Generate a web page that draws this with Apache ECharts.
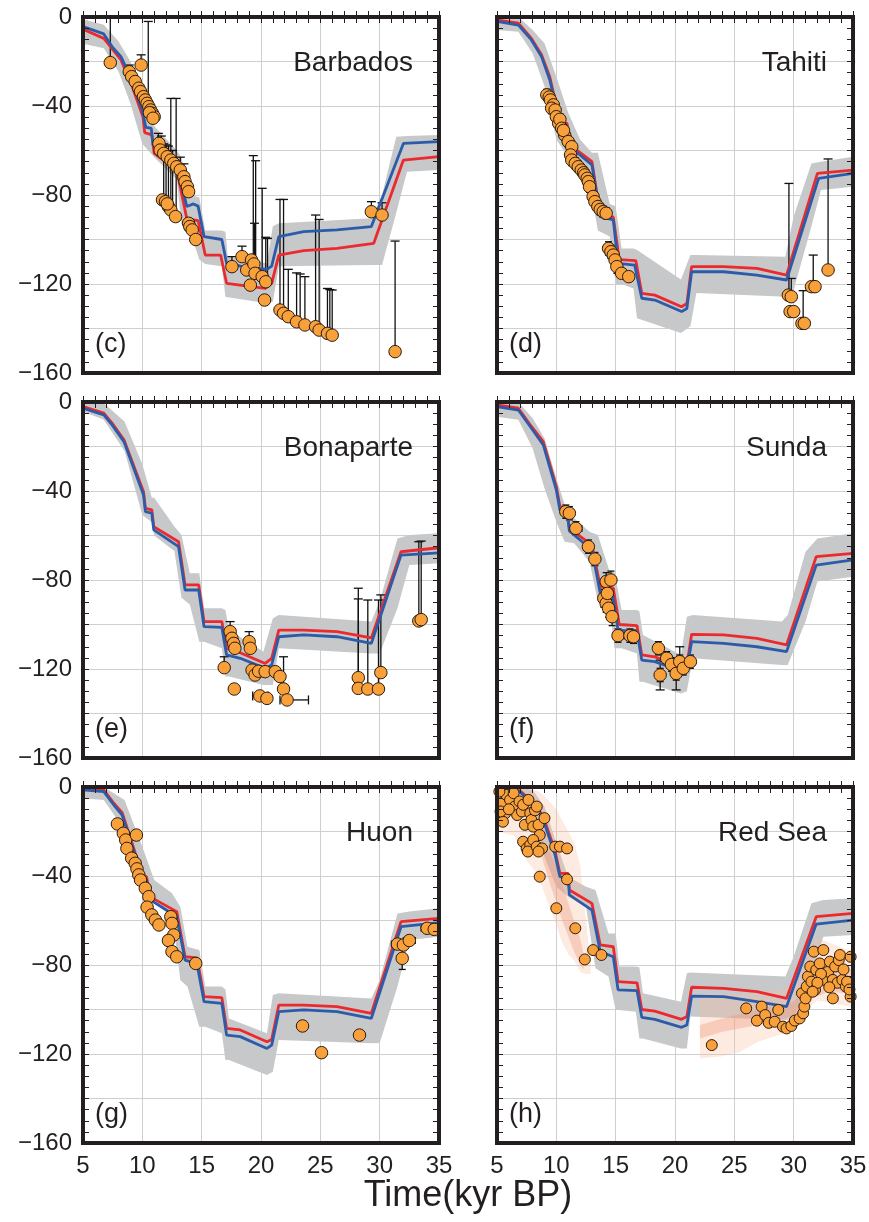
<!DOCTYPE html>
<html>
<head>
<meta charset="UTF-8" />
<title>Sea level, six sites</title>
<style type="text/css">
body,html{margin:0;padding:0;border:0;width:100%;height:100%;overflow:hidden;background:#fff;}
#chart{width:869px;height:1222px;}
</style>
<script src="https://cdn.jsdelivr.net/npm/echarts@6/dist/echarts.min.js"></script>
</head>
<body>
<div id="chart"></div>
<script type="text/javascript">
// axes
var X_MIN = 5, X_MAX = 35, Y_MIN = -160, Y_MAX = 0;
var xTicks = [5, 10, 15, 20, 25, 30, 35];
var yTicks = [0, -40, -80, -120, -160];
var siteNames = ['Barbados', 'Tahiti', 'Bonaparte', 'Sunda', 'Huon', 'Red Sea'];
var panelTags = ['(c)', '(d)', '(e)', '(f)', '(g)', '(h)'];

// ---- Barbados ----  [kyr BP, m]
var barbadosBlue = [[5,-4.3],[6.75,-7.6],[7.45,-13.3],[8.2,-17.8],[9,-27],[10,-42],[10.3,-49.6],[10.75,-50],[10.9,-57.5],[12.9,-65.8],[13.75,-85.2],[14.3,-84],[14.7,-85],[15.2,-98.7],[16.7,-100],[17.1,-110.7],[18.5,-112.2],[20.5,-113.4],[20.9,-112],[21.5,-98.7],[23.6,-96.5],[26.4,-95.7],[29.3,-94.2],[32,-56.8],[35,-56]];
var barbadosRed = [[5,-5.5],[6.75,-9.6],[8.2,-19.3],[9.1,-30.6],[10.05,-44.8],[10.2,-52],[10.8,-53],[11,-61.3],[12.9,-68.8],[13.8,-92],[14.3,-91.2],[14.7,-91.5],[15.3,-107],[16.6,-107],[17.1,-119.7],[20.35,-122],[20.9,-119.7],[21.5,-107],[23.6,-105],[26.4,-104],[29.5,-101.7],[32,-64.3],[35,-62.8]];
var barbadosBand = [[5,-1,-12],[6.75,-3.5,-14],[8,-11,-24.6],[9,-20,-39],[10,-34,-57],[10.5,-45,-60],[11,-49,-63],[12.9,-60,-73],[13.3,-63,-93],[14,-80,-96],[14.8,-81,-109],[15.3,-96,-111],[16.7,-96,-112],[17,-96.5,-125.7],[17.2,-107.7,-126],[20.5,-110.7,-128.7],[21,-94,-128],[21.5,-92.7,-112],[29.3,-90.5,-111.5],[30.2,-80,-111.5],[31.4,-53.8,-88],[32.3,-53.5,-69.5],[35,-53,-68.8]];
var barbadosPts = [[7.3,-20.5],[9.9,-21.6],[8.9,-24.6],[9.1,-26.8],[9.4,-29],[9.7,-32],[9.85,-33.5],[10.1,-35.8],[10.25,-37.3],[10.4,-38.8],[10.55,-40.3],[10.7,-41.8],[10.85,-43.3],[11,-44.8],[10.6,-43],[10.9,-45.5],[11.4,-56.8],[11.5,-59.8],[11.8,-61.3],[12.1,-62.8],[12.4,-64.3],[12.65,-65.8],[12.9,-67.3],[13.2,-68.8],[13.5,-71.8],[13.6,-74],[13.8,-76.3],[13.9,-78.5],[11.7,-82.2],[11.95,-83],[12.2,-85.2],[12.4,-86.7],[12.8,-89.7],[12.1,-84],[13.9,-92.7],[14,-94.2],[14.2,-95.7],[14.5,-100],[17.55,-112.2],[18.4,-107.7],[18.8,-113.7],[19.2,-109.2],[19.4,-111],[19.5,-115.2],[19.1,-120.5],[20.1,-116.7],[20.4,-119],[20.3,-127.2],[21.6,-131.7],[21.9,-133.2],[22.3,-134.7],[23,-137],[23.7,-138.4],[24.6,-139.2],[24.9,-140.7],[25.6,-142.2],[26,-143],[29.3,-87.5],[30.2,-89],[31.3,-150.4]];
var barbadosBars = [[7.3,-20.5,0],[9.9,-21.6,-17],[10.5,-38.8,-2],[8.9,-24.6,-21.6],[11.35,-56.8,-52.3],[11.6,-59.8,-53.5],[11.8,-82.2,-57],[12,-83,-57.5],[12.2,-85.2,-58],[12.4,-86.7,-36.6],[12.55,-86,-60],[12.85,-89.7,-36.6],[13.2,-68.8,-63],[13.5,-71.8,-66],[17.55,-112.2,-107.7],[18.4,-107.7,-103],[19.35,-109,-62.3],[19.55,-110,-64.6],[19.45,-111,-92.7],[20.1,-116.7,-77],[20.4,-119,-99],[20.55,-120,-99.5],[21.6,-131.7,-82],[21.9,-133.2,-82],[22.3,-134.7,-113.4],[23,-137,-115],[23.3,-137.5,-115.5],[23.7,-138.4,-116.7],[24.6,-139.2,-89],[24.9,-140.7,-91],[25.6,-142.2,-122],[25.8,-142.5,-122.5],[26,-143,-122.7],[29.3,-87.5,-83],[30.2,-89,-83.5],[31.3,-150.4,-100.7]];

// ---- Tahiti ----
var tahitiBlue = [[5,-2],[6.8,-3.6],[7.9,-10.3],[8.75,-17.8],[9.45,-28.3],[10.3,-47.8],[10.9,-49.3],[11.15,-58.3],[13,-66.5],[13.7,-89.7],[14.8,-91.2],[15.2,-110.7],[16.6,-111.5],[17.2,-126.4],[18.3,-127.2],[20.55,-132.4],[21,-131],[21.4,-114.5],[24.1,-114.5],[26.9,-116],[29.4,-118.2],[32.1,-72.5],[35,-70.3]];
var tahitiRed = [[5,-1.3],[6.8,-2.8],[7.9,-9.6],[8.75,-17],[9.45,-27],[10.3,-47],[10.9,-47.8],[11.15,-57.5],[13,-65],[13.7,-89],[14.8,-90],[15.3,-109],[16.7,-109.5],[17.2,-124.2],[18.3,-125],[20.55,-130.2],[21,-128.8],[21.4,-112.2],[24.1,-112.2],[26.9,-113],[29.4,-116],[32,-70.3],[35,-68.8]];
var tahitiBand = [[5,0,-5.8],[6.8,0,-6.6],[8,-5.8,-16.3],[9,-11.8,-31],[10,-26.8,-55],[11,-43,-63],[12,-55,-66],[13,-61,-80.7],[13.5,-61,-96],[14.5,-84,-98.7],[15,-85,-120],[15.5,-104,-120],[16.5,-104,-122],[16.8,-104.7,-135.4],[20.5,-118,-142],[21.3,-107,-139],[21.8,-107,-124],[29.3,-107.7,-125.7],[30,-89.7,-122.7],[31.5,-65.8,-94],[32.3,-65,-77.8],[35,-62.8,-76.3]];
var tahitiPts = [[9.2,-35,0.25,2.5],[9.4,-36,0.25,2.5],[9.5,-37.3,0.25,2.5],[9.75,-39.5,0.25,2.5],[9.6,-41,0.25,2.5],[9.9,-41.8,0.25,2.5],[10,-44.8,0.25,2.5],[10.2,-47.8,0.25,2.5],[10.3,-46,0.25,2.5],[10.45,-50,0.25,2.5],[10.7,-53,0.25,2.5],[10.6,-51,0.25,2.5],[11,-56,0.25,2.5],[11.3,-58.3,0.25,2.5],[11.2,-62,0.25,2.5],[11.3,-64.3,0.25,2.5],[11.6,-65.8,0.25,2.5],[11.85,-67.3,0.25,2.5],[12.1,-68.8,0.25,2.5],[12.3,-70,0.25,2.5],[12.4,-71,0.25,2.5],[12.6,-72.5,0.25,2.5],[12.7,-74,0.25,2.5],[12.8,-76.3,0.25,2.5],[13.1,-80.7,0.25,2.5],[13.25,-83,0.25,2.5],[13.5,-85.2,0.25,2.5],[13.7,-86.5,0.25,2.5],[13.95,-87.5,0.25,2.5],[14.2,-88.2,0.25,2.5],[14.4,-104,0.25,3],[14.6,-105.5,0.25,3],[14.8,-107,0.25,3],[14.95,-109.2,0.25,3],[15.1,-112.2,0.25,3],[15.5,-115.2,0,0],[16.1,-116.7,0,0],[29.55,-125],[29.8,-125.7],[29.7,-132.4],[30,-132.4],[30.7,-137.7],[30.9,-137.7],[31.5,-121.2],[31.8,-121.2],[32.9,-113.7]];
var tahitiBars = [[29.6,-125,-74.8],[29.8,-125.7,-117.5],[30.8,-137.7,-123],[31.65,-121.2,-107],[32.9,-113.7,-63.8]];

// ---- Bonaparte ----
var bonaparteBlue = [[5,-2.8],[6.75,-5.8],[7.45,-10.3],[8.45,-17.8],[10.1,-41.8],[10.26,-49.3],[10.8,-50],[10.96,-57.5],[13.05,-65],[13.6,-84.5],[14.75,-84.5],[15.2,-101],[16.7,-101.3],[17.1,-113.7],[18.25,-115.2],[20.35,-119.7],[20.9,-118.2],[21.5,-105.5],[23.6,-104.7],[26.4,-105.5],[29.3,-108.5],[31.8,-68.8],[35,-67.8]];
var bonaparteRed = [[5,-2.1],[6.75,-5],[7.45,-9.5],[8.45,-17],[10.1,-40.3],[10.26,-47.8],[10.8,-48.5],[10.96,-56],[13.05,-62.8],[13.6,-82.2],[14.75,-82.2],[15.2,-98.7],[16.7,-98.7],[17.1,-110.7],[18.25,-112.7],[20.35,-117.5],[20.9,-115.2],[21.5,-102.5],[23.6,-102.5],[26.4,-103.2],[29.3,-106],[31.8,-67.3],[35,-65.5]];
var bonaparteBand = [[5,0,-4.3],[6.75,-0.6,-8],[8.5,-8.8,-22],[10,-28,-50.8],[10.8,-43,-54],[11,-43,-60],[12.7,-56,-67],[13.3,-59.8,-88],[14,-77,-91],[14.8,-77,-107.7],[15.2,-92.7,-107.7],[16.7,-92.7,-110.7],[17,-93.5,-123.4],[17.3,-102.5,-123.4],[20.2,-112.2,-127.2],[21,-97.2,-127.2],[21.5,-95.7,-110.7],[29.3,-98.7,-113],[30,-89.7,-113],[31.5,-61.3,-92.7],[32.5,-59.8,-73.3],[35,-59,-72.5]];
var bonapartePts = [[17.4,-103.2],[17.55,-106.2],[17.7,-108.5],[17.8,-110.7],[19,-107.7],[19.1,-110.7],[16.9,-119.4],[17.75,-129,0.2,0],[19.25,-120.5],[19.5,-122.7],[19.8,-121],[20.35,-121.2],[21.2,-121.2],[21.6,-123.4],[21.9,-129],[19.9,-132.1],[20.5,-133.2],[22.2,-133.9],[28.2,-123.9],[28.2,-128.7],[29,-129],[29.9,-129],[30.1,-121.6],[33.3,-98.4],[33.5,-97.8]];
var bonaparteBars = [[17.4,-103.2,-98.7],[19,-107.7,-103.2],[16.9,-119.4,-114.5],[21.9,-129,-114.5],[28.2,-123.9,-83.7],[28.2,-128.7,-88.5],[29,-129,-89],[29.9,-129,-89],[30.1,-121.6,-86.7],[33.3,-98.4,-62.8],[33.5,-97.8,-62.5]];
var bonaparteHBars = [[-132.1,19.3,20.6],[-133.9,21.6,24]];

// ---- Sunda ----
var sundaBlue = [[5,-2.1],[6.8,-3.6],[7.9,-11.8],[8.9,-19.3],[10,-39.5],[10.3,-48.5],[10.9,-49.3],[11.1,-58],[13,-66.5],[13.7,-86],[14.75,-86.7],[15.2,-102.5],[16.8,-103.2],[17.2,-116],[18.3,-116.7],[20.7,-121.2],[21,-120.5],[21.4,-107.7],[24.1,-108.5],[26.9,-110],[29.4,-112.2],[31.9,-73.3],[35,-71]];
var sundaRed = [[5,-1.3],[6.8,-2.8],[7.9,-11],[8.9,-17.8],[10,-38],[10.3,-47],[10.9,-47.8],[11.1,-56.8],[13,-64.3],[13.7,-83],[14.8,-83.7],[15.3,-100],[16.8,-100.5],[17.2,-113.7],[18.3,-114.5],[20.55,-119.4],[21,-118.5],[21.4,-104.4],[24.1,-104.7],[26.9,-106.2],[29.4,-109.2],[31.9,-69.5],[35,-68]];
var sundaBand = [[5,0,-6.6],[6.8,0,-8],[8,-7.3,-20.8],[9,-16.3,-38.8],[10,-34.3,-53.8],[10.7,-46,-62.8],[11.5,-52.3,-63.5],[12.8,-58.3,-71.8],[13.5,-59.8,-89.7],[14.5,-76.3,-92.7],[14.9,-76.3,-110.7],[15.5,-93.5,-110.7],[16.8,-93.5,-113],[17,-94,-125.7],[17.3,-104.7,-125.7],[20.5,-113.7,-131],[21,-96.5,-130],[21.5,-95.7,-115.2],[29,-98.7,-118.2],[29.5,-95.7,-118.2],[31,-67.3,-98.7],[32,-61.3,-80.7],[35,-59,-78.5]];
var sundaPts = [[10.8,-49.3,0.3,3],[11.1,-50,0.3,3],[11.65,-56.8,0.5,3],[12.7,-65,0.4,3],[13.25,-70.6,0.3,3],[14.2,-80.7,0.4,4],[14.6,-80,0.4,4],[14,-88.2,0.4,4],[14.2,-90.5,0.4,4],[14.4,-92.7,0.4,4],[14.7,-96.5,0.4,4],[14.3,-86,0.4,4],[15.2,-105,0.4,3],[16.2,-105,0.4,3],[16.5,-105.5,0.4,3],[18.6,-110.7,0.3,3],[18.75,-122.7,0.3,3],[19.3,-115.2,0.3,3],[19.7,-118,0.3,3],[20.1,-122,0.3,3],[20.4,-116.7,0.4,3],[20.7,-119.7,0.3,3],[21.3,-116.7,0.3,3]];
var sundaBars = [[18.75,-129.4,-116],[20.1,-129.4,-115],[20.4,-116.7,-110]];

// ---- Huon ----
var huonBlue = [[5,-1.3],[6.75,-2.1],[7.6,-8.1],[8.3,-12.6],[10,-41],[10.35,-41.8],[10.7,-50.8],[12.9,-58.3],[13.6,-77.8],[14.6,-79.3],[15.2,-96.5],[16.7,-97.2],[17.1,-111.5],[18.25,-112.2],[20.5,-117.5],[20.9,-116],[21.5,-101],[23.6,-100.2],[26.4,-101],[29.3,-104],[31.8,-62.8],[35,-61]];
var huonRed = [[5,-0.8],[6.75,-1.3],[7.6,-7.3],[8.3,-11.5],[10,-39.5],[10.35,-40.3],[10.7,-49.5],[12.9,-56],[13.6,-76.3],[14.6,-76.8],[15.2,-94.2],[16.7,-94.7],[17.1,-108.5],[18.25,-109.2],[20.5,-114.5],[20.9,-113.5],[21.5,-98],[23.6,-98],[26.4,-98.7],[29.3,-101.7],[31.8,-60.5],[35,-59]];
var huonBand = [[5,0,-5],[6.75,0,-5.8],[8.5,-5.8,-19.3],[10,-26.8,-46.3],[11,-41.8,-50.8],[12.5,-47.8,-56.8],[13.2,-53.8,-86.7],[13.8,-71.8,-89.7],[14.8,-73.3,-107.7],[15.3,-89.7,-107.7],[16.7,-89.7,-110.7],[17,-91,-122.7],[17.3,-104,-122.7],[20.5,-110.7,-129.4],[21,-93.5,-128],[21.5,-92.7,-113.7],[29.3,-95,-115.2],[30,-86.7,-115],[31.5,-56.8,-89.7],[32.5,-56,-68.8],[35,-54.5,-67.3]];
var huonPts = [[7.9,-16.6,0.2,2],[8.4,-20.8,0.2,2],[8.6,-23.8,0.2,2],[8.7,-27.6,0.2,2],[9.5,-21.6,0.2,2],[9.1,-32,0.2,2],[9.4,-34.3,0.2,2],[9.55,-36.8,0.2,2],[9.7,-39.5,0.2,2],[9.85,-41.8,0.2,2],[10.25,-45.5,0.2,2],[10.55,-49.3,0.2,2],[10.4,-54,0.2,2],[10.8,-57.5,0.2,2],[11.1,-59.8,0.2,2],[11.4,-62,0.2,2],[12.4,-58.3,0.2,2],[12.5,-61.3,0.2,2],[12.65,-66.5,0.2,2],[12.2,-69,0.2,2],[12.5,-74,0.2,2],[12.9,-76.3,0.2,2],[14.5,-79.3,0.3,1.5],[23.5,-107.4,0.2,2],[25.1,-119.4,0.2,2],[28.3,-111.5,0.2,2],[31.5,-70.6,0.5,2],[31.9,-77,0.3,5],[32,-71,0.3,2],[32.5,-69,0.5,2],[34,-63.5,0.5,1.5],[34.6,-64,0.5,1.5]];

// ---- Red Sea ----
var redseaBlue = [[5,-1.3],[6.9,-2.1],[8,-7.3],[8.9,-14.8],[9.9,-30.6],[10.3,-40.3],[11,-41],[11.1,-48.5],[13,-55.3],[13.7,-74],[14.8,-76.3],[15.2,-91.2],[16.8,-91.5],[17.2,-103.5],[18.3,-104.4],[20.55,-108],[21,-107],[21.4,-94],[24.1,-94.2],[26.9,-96.5],[29.4,-98.7],[31.9,-61.6],[35,-59.8]];
var redseaRed = [[5,-1],[6.9,-1.6],[8,-6.6],[8.9,-13.3],[9.9,-29],[10.3,-38.8],[11,-38.8],[11.1,-46.3],[13,-52.3],[13.7,-71],[14.8,-71.8],[15.2,-87.5],[16.8,-88],[17.2,-100],[18.3,-100.7],[20.55,-104.4],[21,-103.2],[21.4,-90],[24.1,-90.5],[26.9,-92],[29.4,-95],[31.9,-58.3],[35,-56.8]];
var redseaBand = [[5,0,-2],[6.9,0,-3.6],[8,-1.3,-13.3],[9,-8.8,-31.3],[10,-25.3,-44.8],[11,-40.3,-49.3],[12.5,-44.8,-53.8],[13.3,-46.3,-81.5],[14.4,-65.8,-85.2],[15,-65.8,-100.2],[15.3,-80.7,-100.2],[16.7,-80.7,-101],[17,-81,-113],[17.3,-92.7,-113],[20.5,-96.5,-117.5],[21,-83.7,-117.5],[21.3,-83.4,-103.2],[29.3,-85.2,-104.7],[30,-76.3,-104],[31.5,-52.3,-83.7],[32.5,-50.8,-67.3],[35,-50,-66.5]];
// Red Sea reconstruction envelopes (outer and inner)
var redseaOuterEarly = [[5,0,-20],[6.5,0,-22],[7.5,0,-33],[8.5,-2,-40],[9,-4,-48],[9.5,-7,-55],[10,-10,-62],[10.5,-15,-70],[11,-20,-75],[11.5,-25,-78],[12,-35,-83],[12.5,-60,-84],[12.9,-80,-84]];
var redseaInnerEarly = [[8.8,-24,-32],[9.5,-30,-44],[10,-36,-52],[10.5,-44,-60],[11,-52,-67],[11.5,-60,-74],[12,-68,-80],[12.3,-75,-82]];
var redseaOuterLate = [[22.1,-93,-122],[24,-93,-121],[25.5,-93,-119],[27,-92,-114.5],[29,-91,-111],[30,-88,-109],[30.8,-80,-104.7],[31.5,-70,-98],[32,-68,-96],[33,-70,-97],[34,-72,-98],[35,-74,-99]];
var redseaInnerLate = [[22.1,-107,-113],[24,-104,-110],[27,-100,-107],[29.8,-97,-103],[30.8,-93,-100],[31.5,-85,-95],[33,-80,-92],[35,-82,-93]];
var redseaPts = [[5.4,-7.3],[5.7,-11.8],[5.5,-15.6],[5.8,-3.6],[6.1,-5.8],[6.4,-2.8],[6.5,-8.8],[6.7,-12.6],[6.9,-6.5],[7.1,-11],[7.2,-8],[7.35,-17],[7.65,-5.8],[7.8,-11.8],[7.9,-14.8],[8.05,-17.8],[8.2,-10.5],[8.35,-8.8],[8.5,-17],[8.6,-21.6],[9,-14],[5.2,-2],[5.3,-11],[6,-10],[7.2,-24.6],[7.5,-27.6],[7.8,-26],[7.6,-29],[8.05,-23.8],[8.35,-26.8],[8.8,-27.6],[8.5,-29],[9.9,-26.8],[10.3,-26.8],[10.9,-27.6],[8.6,-40.3],[10,-54.5],[10.9,-41.5],[11.6,-63.5],[12.4,-77.5],[13.1,-73.3],[13.8,-75.5],
  [23.1,-116],[26,-99.5],[26.9,-105],[27.3,-98.7],[27.6,-102.5],[27.9,-106],[28.4,-105.5],[28.7,-100.2],[29.1,-107.7],[29.4,-108.5],[29.8,-107.4],[30.1,-105],[30.5,-104],[30.8,-101.7],[30.9,-98.7],[30.7,-92.7],[31,-95],[31.1,-89.7],[31.2,-85.2],[31.4,-80.7],[31.5,-87.5],[31.7,-74],[31.8,-91.2],[31.9,-82.2],[32.2,-79.3],[32.5,-73.3],[32.6,-86.7],[32.9,-83],[33.05,-78.5],[33.3,-95],[33.3,-86.7],[33.5,-80.7],[33.7,-88],[33.8,-77.8],[33.9,-75.5],[34.1,-86.7],[34.4,-89.7],[34.5,-87.5],[34.8,-76.3],[34.8,-94.2],[34.7,-91],[32.3,-84],[32,-88],[31.6,-92],[33,-90],[34.2,-82]];

var panels = [
  {blue: barbadosBlue, red: barbadosRed, band: barbadosBand, pts: barbadosPts, bars: barbadosBars},
  {blue: tahitiBlue, red: tahitiRed, band: tahitiBand, pts: tahitiPts, bars: tahitiBars},
  {blue: bonaparteBlue, red: bonaparteRed, band: bonaparteBand, pts: bonapartePts, bars: bonaparteBars, hbars: bonaparteHBars},
  {blue: sundaBlue, red: sundaRed, band: sundaBand, pts: sundaPts, bars: sundaBars},
  {blue: huonBlue, red: huonRed, band: huonBand, pts: huonPts, bars: []},
  {blue: redseaBlue, red: redseaRed, band: redseaBand, pts: redseaPts, bars: [],
   shades: [[redseaOuterEarly, 'rgba(248,190,160,0.32)'], [redseaOuterLate, 'rgba(248,190,160,0.32)'],
            [redseaInnerEarly, 'rgba(238,140,110,0.32)'], [redseaInnerLate, 'rgba(238,140,110,0.32)']]}
];

var FONT = '"Liberation Sans", Arial, Helvetica, sans-serif';
var INK = '#231f20';
var colLeft = [83, 497], rowTop = [17, 402, 787], PW = 356, PH = 356;

function minus(v){ return v < 0 ? '\u2212' + (-v) : String(v); }

function polygonSeries(i, rows, color, z){
  return {
    type: 'custom', xAxisIndex: i, yAxisIndex: i, z: z, silent: true, clip: true,
    data: rows,
    renderItem: function(params, api){
      if (params.dataIndex !== 0) return null;
      var pts = [], k;
      for (k = 0; k < rows.length; k++) pts.push(api.coord([rows[k][0], rows[k][1]]));
      for (k = rows.length - 1; k >= 0; k--) pts.push(api.coord([rows[k][0], rows[k][2]]));
      return {type: 'polygon', shape: {points: pts}, style: {fill: color}};
    }
  };
}

function seg(x1, y1, x2, y2){
  return {type: 'line', shape: {x1: x1, y1: y1, x2: x2, y2: y2}, style: {stroke: '#111', lineWidth: 1.3}};
}

function barSeries(i, rows, horizontal){
  return {
    type: 'custom', xAxisIndex: i, yAxisIndex: i, z: 3, silent: true, clip: true,
    data: rows,
    renderItem: function(params, api){
      var a, b, c = 4.5;
      if (horizontal) {
        a = api.coord([api.value(1), api.value(0)]);
        b = api.coord([api.value(2), api.value(0)]);
        return {type: 'group', children: [seg(a[0], a[1], b[0], b[1]),
          seg(a[0], a[1] - c, a[0], a[1] + c), seg(b[0], b[1] - c, b[0], b[1] + c)]};
      }
      a = api.coord([api.value(0), api.value(1)]);
      b = api.coord([api.value(0), api.value(2)]);
      return {type: 'group', children: [seg(a[0], a[1], b[0], b[1]),
        seg(a[0] - c, a[1], a[0] + c, a[1]), seg(b[0] - c, b[1], b[0] + c, b[1])]};
    }
  };
}

function crossSeries(i, rows){
  return {
    type: 'custom', xAxisIndex: i, yAxisIndex: i, z: 3, silent: true, clip: true,
    data: rows,
    renderItem: function(params, api){
      var x = api.value(0), y = api.value(1), ex = api.value(2) || 0, ey = api.value(3) || 0;
      var kids = [], c = 3.5, a, b;
      if (ex > 0) {
        a = api.coord([x - ex, y]); b = api.coord([x + ex, y]);
        kids.push(seg(a[0], a[1], b[0], b[1]), seg(a[0], a[1] - c, a[0], a[1] + c), seg(b[0], b[1] - c, b[0], b[1] + c));
      }
      if (ey > 0) {
        a = api.coord([x, y - ey]); b = api.coord([x, y + ey]);
        kids.push(seg(a[0], a[1], b[0], b[1]), seg(a[0] - c, a[1], a[0] + c, a[1]), seg(b[0] - c, b[1], b[0] + c, b[1]));
      }
      return {type: 'group', children: kids};
    }
  };
}

var grids = [], xAxes = [], yAxes = [], series = [], graphics = [];
var n = panels.length, i;

// main axes (grid lines + labels)
for (i = 0; i < n; i++) {
  var col = i % 2, row = Math.floor(i / 2);
  grids.push({left: colLeft[col], top: rowTop[row], width: PW, height: PH, containLabel: false, outerBoundsMode: 'none'});
  xAxes.push({
    gridIndex: i, type: 'value', min: X_MIN, max: X_MAX, interval: 5, position: 'bottom', z: 0,
    axisLine: {show: false}, axisTick: {show: false}, minorTick: {show: false},
    splitLine: {show: true, lineStyle: {color: '#cfcfcf', width: 1}},
    axisLabel: {show: row === 2, fontSize: 24, color: INK, fontFamily: FONT, margin: 11,
      showMinLabel: true, showMaxLabel: true,
      formatter: function(v){ return xTicks.indexOf(v) >= 0 ? String(v) : ''; }}
  });
  yAxes.push({
    gridIndex: i, type: 'value', min: Y_MIN, max: Y_MAX, interval: 20, position: 'left', z: 0,
    axisLine: {show: false}, axisTick: {show: false}, minorTick: {show: false},
    splitLine: {show: true, lineStyle: {color: '#cfcfcf', width: 1}},
    axisLabel: {show: col === 0, fontSize: 24, color: INK, fontFamily: FONT, margin: 11,
      showMinLabel: true, showMaxLabel: true,
      formatter: function(v){ return yTicks.indexOf(v) >= 0 ? minus(v) : ''; }}
  });
}
// tick-only axes on all four sides, drawn above the data
var sidesX = ['bottom', 'top'], sidesY = ['left', 'right'];
for (var s = 0; s < 2; s++) {
  for (i = 0; i < n; i++) {
    xAxes.push({
      gridIndex: i, type: 'value', min: X_MIN, max: X_MAX, interval: 5, position: sidesX[s], z: 20,
      axisLine: {show: false}, splitLine: {show: false}, axisLabel: {show: false},
      axisTick: {show: true, inside: true, length: 6, lineStyle: {color: INK, width: 1}},
      minorTick: {show: true, splitNumber: 5, length: 6, lineStyle: {color: INK, width: 1}}
    });
    yAxes.push({
      gridIndex: i, type: 'value', min: Y_MIN, max: Y_MAX, interval: 20, position: sidesY[s], z: 20,
      axisLine: {show: false}, splitLine: {show: false}, axisLabel: {show: false},
      axisTick: {show: true, inside: true, length: 6, lineStyle: {color: INK, width: 1}},
      minorTick: {show: true, splitNumber: 4, length: 6, lineStyle: {color: INK, width: 1}}
    });
  }
}

for (i = 0; i < n; i++) {
  var p = panels[i];
  series.push(polygonSeries(i, p.band, '#c7c8ca', 1));
  if (p.shades) {
    p.shades.forEach(function(sh){ series.push(polygonSeries(i, sh[0], sh[1], 2)); });
  }
  if (p.bars.length) series.push(barSeries(i, p.bars, false));
  if (p.hbars) series.push(barSeries(i, p.hbars, true));
  series.push(crossSeries(i, p.pts));
  series.push({type: 'line', xAxisIndex: i, yAxisIndex: i, z: 4, data: p.red, showSymbol: false, silent: true,
    lineStyle: {color: '#ea2a2e', width: 2.8}, animation: false});
  series.push({type: 'line', xAxisIndex: i, yAxisIndex: i, z: 4, data: p.blue, showSymbol: false, silent: true,
    lineStyle: {color: '#2c5ca9', width: 2.8}, animation: false});
  series.push({type: 'scatter', xAxisIndex: i, yAxisIndex: i, z: 5, data: p.pts, silent: true,
    encode: {x: 0, y: 1}, symbolSize: i === 5 ? 11 : 12.5,
    itemStyle: {color: '#f8a13a', borderColor: '#2b1b0e', borderWidth: 1, opacity: 1}});

  var col2 = i % 2, row2 = Math.floor(i / 2);
  var gx = colLeft[col2], gy = rowTop[row2];
  graphics.push({type: 'rect', z: 100, silent: true,
    shape: {x: gx, y: gy, width: PW, height: PH},
    style: {fill: null, stroke: INK, lineWidth: 4}});
  graphics.push({type: 'text', z: 100, silent: true, x: gx + PW - 26, y: gy + 46,
    style: {text: siteNames[i], font: '28px ' + FONT, fill: INK, align: 'right', verticalAlign: 'middle',
      textAlign: 'right', textVerticalAlign: 'middle'}});
  graphics.push({type: 'text', z: 100, silent: true, x: gx + 12, y: gy + PH - 28,
    style: {text: panelTags[i], font: '27px ' + FONT, fill: INK, align: 'left', verticalAlign: 'middle',
      textAlign: 'left', textVerticalAlign: 'middle'}});
}
graphics.push({type: 'text', z: 100, silent: true, x: 468, y: 1196,
  style: {text: 'Time(kyr BP)', font: '36px ' + FONT, fill: INK, align: 'center', verticalAlign: 'middle',
    textAlign: 'center', textVerticalAlign: 'middle'}});

var chart = echarts.init(document.getElementById('chart'), null, {renderer: 'canvas'});
chart.setOption({
  animation: false,
  backgroundColor: '#ffffff',
  grid: grids,
  xAxis: xAxes,
  yAxis: yAxes,
  series: series,
  graphic: graphics
});
</script>
</body>
</html>
